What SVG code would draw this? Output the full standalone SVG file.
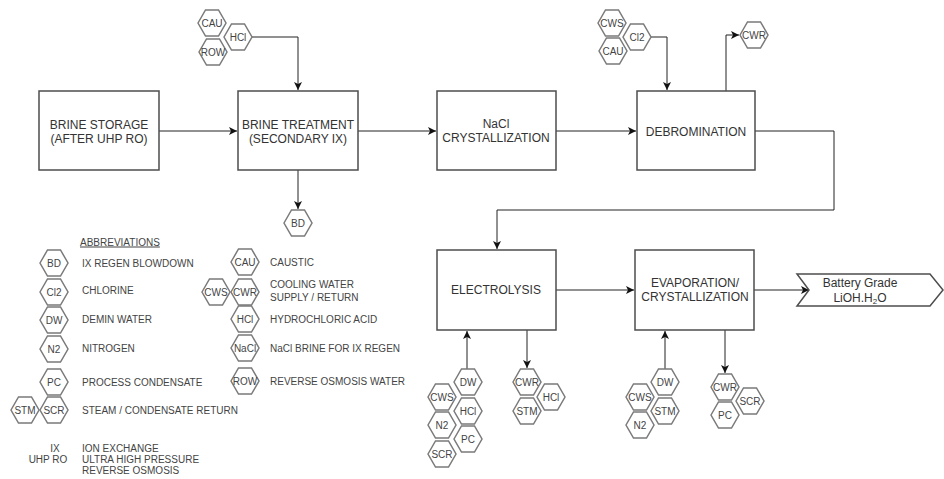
<svg xmlns="http://www.w3.org/2000/svg" xmlns:xlink="http://www.w3.org/1999/xlink" width="944" height="479" viewBox="0 0 944 479">
<style>
  .box { fill: #ffffff; stroke: #4d4d4d; stroke-width: 1.5; }
  .hex { fill: #ffffff; stroke: #7a7a7a; stroke-width: 1.5; }
  .bt { font-family: "Liberation Sans", Arial, sans-serif; font-size: 12px; fill: #333333; text-anchor: middle; }
  .ht { font-family: "Liberation Sans", Arial, sans-serif; font-size: 10px; fill: #444444; text-anchor: middle; }
  .lt { font-family: "Liberation Sans", Arial, sans-serif; font-size: 10px; fill: #444444; }
  .con { fill: none; stroke: #222222; stroke-width: 1; }
</style>
<defs>
  <path id="hexp" d="M-14,0 L-6.5,-13 L6.5,-13 L14,0 L6.5,13 L-6.5,13 Z"/>
  <marker id="arr" markerWidth="9" markerHeight="8" refX="8" refY="4" orient="auto" markerUnits="userSpaceOnUse">
    <path d="M0,0 L8,4 L0,8 L2,4 Z" fill="#111111"/>
  </marker>
</defs>
<rect width="944" height="479" fill="#ffffff"/>

<g id="connectors">
  <path class="con" d="M159,131 H237" marker-end="url(#arr)"/>
  <path class="con" d="M358,131 H436" marker-end="url(#arr)"/>
  <path class="con" d="M556,131 H636" marker-end="url(#arr)"/>
  <path class="con" d="M755,131 H834 V210 H497 V249" marker-end="url(#arr)"/>
  <path class="con" d="M556,290 H634" marker-end="url(#arr)"/>
  <path class="con" d="M754,290 H809" marker-end="url(#arr)"/>
  <path class="con" d="M252,37 H298 V90" marker-end="url(#arr)"/>
  <path class="con" d="M651,37 H667 V90" marker-end="url(#arr)"/>
  <path class="con" d="M726,91 V35 H739" marker-end="url(#arr)"/>
  <path class="con" d="M298,170 V209" marker-end="url(#arr)"/>
  <path class="con" d="M467,369 V331" marker-end="url(#arr)"/>
  <path class="con" d="M527,330 V368" marker-end="url(#arr)"/>
  <path class="con" d="M665,369 V331" marker-end="url(#arr)"/>
  <path class="con" d="M725,330 V373" marker-end="url(#arr)"/>
</g>

<g id="brine-storage">
  <rect class="box" x="39" y="91" width="120" height="79"/>
  <text class="bt" x="99" y="129">BRINE STORAGE</text>
  <text class="bt" x="99" y="143">(AFTER UHP RO)</text>
</g>
<g id="brine-treatment">
  <rect class="box" x="238" y="91" width="120" height="79"/>
  <text class="bt" x="298" y="129">BRINE TREATMENT</text>
  <text class="bt" x="298" y="143">(SECONDARY IX)</text>
</g>
<g id="nacl-crystallization">
  <rect class="box" x="437" y="91" width="119" height="79"/>
  <text class="bt" x="496" y="128">NaCl</text>
  <text class="bt" x="496" y="142">CRYSTALLIZATION</text>
</g>
<g id="debromination">
  <rect class="box" x="637" y="91" width="118" height="79"/>
  <text class="bt" x="696" y="136">DEBROMINATION</text>
</g>
<g id="electrolysis">
  <rect class="box" x="437" y="250" width="119" height="80"/>
  <text class="bt" x="496" y="294">ELECTROLYSIS</text>
</g>
<g id="evaporation">
  <rect class="box" x="635" y="250" width="119" height="80"/>
  <text class="bt" x="695" y="287">EVAPORATION/</text>
  <text class="bt" x="695" y="301">CRYSTALLIZATION</text>
</g>
<g id="battery-grade">
  <path class="box" d="M797,274 L930,274 L943,290 L930,306 L797,306 L809,290 Z"/>
  <text class="bt" x="860" y="287">Battery Grade</text>
  <text class="bt" x="860" y="302">LiOH.H<tspan font-size="8" dy="2">2</tspan><tspan dy="-2">O</tspan></text>
</g>

<!-- hexagons at brine treatment -->
<g id="hex-cau-top"><use href="#hexp" class="hex" x="212" y="23"/><text class="ht" x="212" y="26.5">CAU</text></g>
<g id="hex-hcl-top"><use href="#hexp" class="hex" x="238" y="37"/><text class="ht" x="238" y="40.5">HCl</text></g>
<g id="hex-row-top"><use href="#hexp" class="hex" x="213" y="52"/><text class="ht" x="213" y="55.5">ROW</text></g>
<g id="hex-bd"><use href="#hexp" class="hex" x="298" y="223"/><text class="ht" x="298" y="226.5">BD</text></g>

<!-- hexagons at debromination -->
<g id="hex-cws-top"><use href="#hexp" class="hex" x="612" y="23"/><text class="ht" x="612" y="26.5">CWS</text></g>
<g id="hex-cl2-top"><use href="#hexp" class="hex" x="637" y="37"/><text class="ht" x="637" y="40.5">Cl2</text></g>
<g id="hex-cau-top2"><use href="#hexp" class="hex" x="613" y="51"/><text class="ht" x="613" y="54.5">CAU</text></g>
<g id="hex-cwr-top"><use href="#hexp" class="hex" x="754" y="35"/><text class="ht" x="754" y="38.5">CWR</text></g>

<!-- hexagons at electrolysis -->
<g id="hex-e-dw"><use href="#hexp" class="hex" x="468" y="382"/><text class="ht" x="468" y="385.5">DW</text></g>
<g id="hex-e-cws"><use href="#hexp" class="hex" x="442" y="397"/><text class="ht" x="442" y="400.5">CWS</text></g>
<g id="hex-e-hcl"><use href="#hexp" class="hex" x="468" y="411"/><text class="ht" x="468" y="414.5">HCl</text></g>
<g id="hex-e-n2"><use href="#hexp" class="hex" x="442" y="425"/><text class="ht" x="442" y="428.5">N2</text></g>
<g id="hex-e-pc"><use href="#hexp" class="hex" x="468" y="439"/><text class="ht" x="468" y="442.5">PC</text></g>
<g id="hex-e-scr"><use href="#hexp" class="hex" x="442" y="454"/><text class="ht" x="442" y="457.5">SCR</text></g>
<g id="hex-e-cwr"><use href="#hexp" class="hex" x="527" y="382"/><text class="ht" x="527" y="385.5">CWR</text></g>
<g id="hex-e-hcl2"><use href="#hexp" class="hex" x="551" y="397"/><text class="ht" x="551" y="400.5">HCl</text></g>
<g id="hex-e-stm"><use href="#hexp" class="hex" x="527" y="411"/><text class="ht" x="527" y="414.5">STM</text></g>

<!-- hexagons at evaporation -->
<g id="hex-v-dw"><use href="#hexp" class="hex" x="665" y="382"/><text class="ht" x="665" y="385.5">DW</text></g>
<g id="hex-v-cws"><use href="#hexp" class="hex" x="640" y="397"/><text class="ht" x="640" y="400.5">CWS</text></g>
<g id="hex-v-stm"><use href="#hexp" class="hex" x="665" y="411"/><text class="ht" x="665" y="414.5">STM</text></g>
<g id="hex-v-n2"><use href="#hexp" class="hex" x="640" y="425"/><text class="ht" x="640" y="428.5">N2</text></g>
<g id="hex-v-cwr"><use href="#hexp" class="hex" x="725" y="387"/><text class="ht" x="725" y="390.5">CWR</text></g>
<g id="hex-v-scr"><use href="#hexp" class="hex" x="750" y="401"/><text class="ht" x="750" y="404.5">SCR</text></g>
<g id="hex-v-pc"><use href="#hexp" class="hex" x="725" y="415"/><text class="ht" x="725" y="418.5">PC</text></g>

<!-- legend -->
<g id="legend">
  <text class="lt" x="80" y="245.5" text-decoration="underline">ABBREVIATIONS</text>
  <use href="#hexp" class="hex" x="54" y="263"/><text class="ht" x="54" y="266.5">BD</text>
  <text class="lt" x="82" y="266.5">IX REGEN BLOWDOWN</text>
  <use href="#hexp" class="hex" x="54" y="292"/><text class="ht" x="54" y="295.5">Cl2</text>
  <text class="lt" x="82" y="294">CHLORINE</text>
  <use href="#hexp" class="hex" x="54" y="320"/><text class="ht" x="54" y="323.5">DW</text>
  <text class="lt" x="82" y="322.5">DEMIN WATER</text>
  <use href="#hexp" class="hex" x="54" y="349"/><text class="ht" x="54" y="352.5">N2</text>
  <text class="lt" x="82" y="351.5">NITROGEN</text>
  <use href="#hexp" class="hex" x="54" y="382"/><text class="ht" x="54" y="385.5">PC</text>
  <text class="lt" x="82" y="385.5">PROCESS CONDENSATE</text>
  <use href="#hexp" class="hex" x="25" y="410"/><text class="ht" x="25" y="413.5">STM</text>
  <use href="#hexp" class="hex" x="54" y="410"/><text class="ht" x="54" y="413.5">SCR</text>
  <text class="lt" x="82" y="413.5">STEAM / CONDENSATE RETURN</text>

  <use href="#hexp" class="hex" x="245" y="262"/><text class="ht" x="245" y="265.5">CAU</text>
  <text class="lt" x="270" y="265.5">CAUSTIC</text>
  <use href="#hexp" class="hex" x="216" y="292"/><text class="ht" x="216" y="295.5">CWS</text>
  <use href="#hexp" class="hex" x="245" y="292"/><text class="ht" x="245" y="295.5">CWR</text>
  <text class="lt" x="270" y="287.5">COOLING WATER</text>
  <text class="lt" x="270" y="300.5">SUPPLY / RETURN</text>
  <use href="#hexp" class="hex" x="245" y="319"/><text class="ht" x="245" y="322.5">HCl</text>
  <text class="lt" x="270" y="322.5">HYDROCHLORIC ACID</text>
  <use href="#hexp" class="hex" x="245" y="348"/><text class="ht" x="245" y="351.5">NaCl</text>
  <text class="lt" x="270" y="351.5">NaCl BRINE FOR IX REGEN</text>
  <use href="#hexp" class="hex" x="245" y="381"/><text class="ht" x="245" y="384.5">ROW</text>
  <text class="lt" x="270" y="384.5">REVERSE OSMOSIS WATER</text>

  <text class="lt" x="55" y="451.5" text-anchor="middle">IX</text>
  <text class="lt" x="48" y="462.5" text-anchor="middle">UHP RO</text>
  <text class="lt" x="82" y="451.5">ION EXCHANGE</text>
  <text class="lt" x="82" y="462.5">ULTRA HIGH PRESSURE</text>
  <text class="lt" x="82" y="474">REVERSE OSMOSIS</text>
</g>
</svg>
